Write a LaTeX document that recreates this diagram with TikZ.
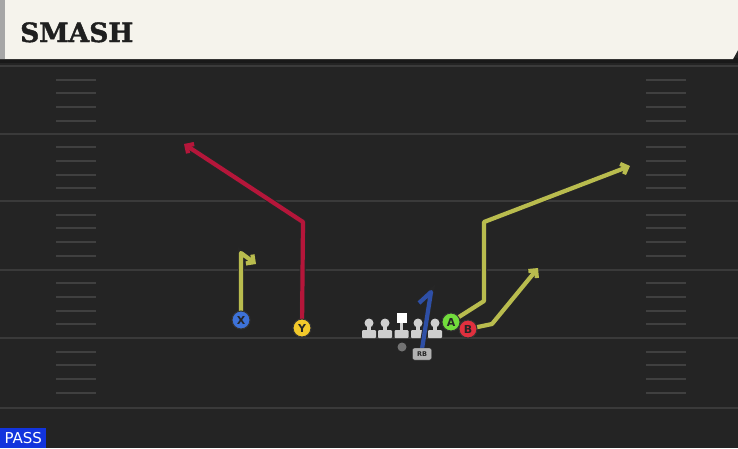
\documentclass[tikz,border=0pt]{standalone}
\usepackage{fontspec}
\setmainfont{DejaVu Sans}
\newfontfamily\titlefont[FakeBold=1.6]{DejaVu Serif Bold}
\usetikzlibrary{arrows.meta}
\definecolor{fieldbg}{HTML}{242424}
\definecolor{yardc}{HTML}{3A3A3A}
\definecolor{hashc}{HTML}{404040}
\definecolor{cream}{HTML}{F5F3EC}
\definecolor{olive}{HTML}{B9BC4E}
\definecolor{routered}{HTML}{B5163A}
\definecolor{routeblue}{HTML}{2E4FA6}
\definecolor{pblue}{HTML}{3D72D8}
\definecolor{pyellow}{HTML}{F2C92B}
\definecolor{pgreen}{HTML}{72DC3C}
\definecolor{pred}{HTML}{E0303E}
\definecolor{lgray}{HTML}{CFCFCF}
\definecolor{passblue}{HTML}{1234DD}
\begin{document}
\begin{tikzpicture}[x=1pt,y=-1pt,
  player/.style={circle, draw=black!80, line width=1pt, minimum size=18pt, inner sep=0pt, font=\fontsize{11}{11}\selectfont\bfseries, text=black!85},
  route/.style={line width=4.2pt, line join=round, draw=#1, preaction={draw=black!85, line width=6pt}},
  tip/.style={-{Straight Barb[length=5.5pt,width=11pt]}},
  head/.style={circle, fill=lgray, minimum size=9pt, inner sep=0pt},
  yard/.style={draw=yardc, line width=2pt},
  hash/.style={draw=hashc, line width=2pt}
]
\useasboundingbox (0,0) rectangle (738,448);
% field
\fill[fieldbg] (0,0) rectangle (738,448);
% yard lines and hash marks
\foreach \yy in {66,133.5,201,269.5,338,408} {
  \draw[yard] (0,\yy) -- (738,\yy);
}
\foreach \yy in {66,133.5,201,269.5,338} {
  \foreach \k in {1,2,3,4} {
    \draw[hash] (56,\yy+\k*13.7) -- (96,\yy+\k*13.7);
    \draw[hash] (646,\yy+\k*13.7) -- (686,\yy+\k*13.7);
  }
}
% header
\fill[black!90] (0,58) rectangle (738,63);
\fill[cream] (0,0) -- (738,0) -- (738,50) -- (733,59) -- (0,59) -- cycle;
\fill[black!35] (0,0) rectangle (5,59);
\node[anchor=base west, inner sep=0pt, font=\titlefont\fontsize{26.5}{27}\selectfont, text=black!88] (title) at (20,42) {SMASH};
% pass tag
\node[anchor=south west, fill=passblue, minimum width=46pt, minimum height=20pt, inner sep=0pt, text=white, font=\fontsize{15}{15}\selectfont] (pass) at (0,448) {PASS};
% linemen
\foreach \n/\x in {lt/369, lg/385, rg/418, rt/435} {
  \fill[lgray] (\x-1.8,324) rectangle (\x+1.8,331);
  \fill[lgray, rounded corners=1pt] (\x-7,330) rectangle (\x+7,338);
  \node[head] (\n) at (\x,323) {};
}
\node[fill=white, minimum width=10pt, minimum height=10pt, inner sep=0pt] (ctr) at (401.5,318) {};
\fill[lgray] (399.7,323) rectangle (403.3,331);
\fill[lgray, rounded corners=1pt] (394.5,330) rectangle (408.5,338);
% QB
\node[circle, fill=black!55, minimum size=9pt, inner sep=0pt] (qb) at (402,347) {};
% RB route (drawn under RB)
\coordinate (rbtop) at (431,292);
\coordinate (rbspike) at (419,303);
\draw[route=routeblue] (422,349) -- (rbtop) -- (rbspike);
\node[draw=black!80, fill=black!30, rounded corners=2pt, minimum width=19pt, minimum height=12pt, inner sep=0pt, font=\fontsize{6.5}{6.5}\selectfont\bfseries, text=black!85] (rb) at (422,354) {RB};
% routes
\coordinate (x1) at (241,253);
\coordinate (x2) at (256,264);
\coordinate (y1) at (303,222);
\coordinate (y2) at (184,144);
\coordinate (a1) at (484,301);
\coordinate (a2) at (484,222);
\coordinate (a3) at (630,166);
\coordinate (b1) at (492,324);
\coordinate (b2) at (538,268);
\draw[route=olive, tip] (241,320) -- (x1) -- (x2);
\draw[route=routered, tip] (302,328) -- (y1) -- (y2);
\draw[route=olive, tip] (451,322) -- (a1) -- (a2) -- (a3);
\draw[route=olive, tip] (468,329) -- (b1) -- (b2);
% players
\node[player, fill=pblue] (X) at (241,320) {X};
\node[player, fill=pyellow] (Y) at (302,328) {Y};
\node[player, fill=pgreen] (A) at (451,322) {A};
\node[player, fill=pred] (B) at (468,329) {B};
\end{tikzpicture}
\end{document}
